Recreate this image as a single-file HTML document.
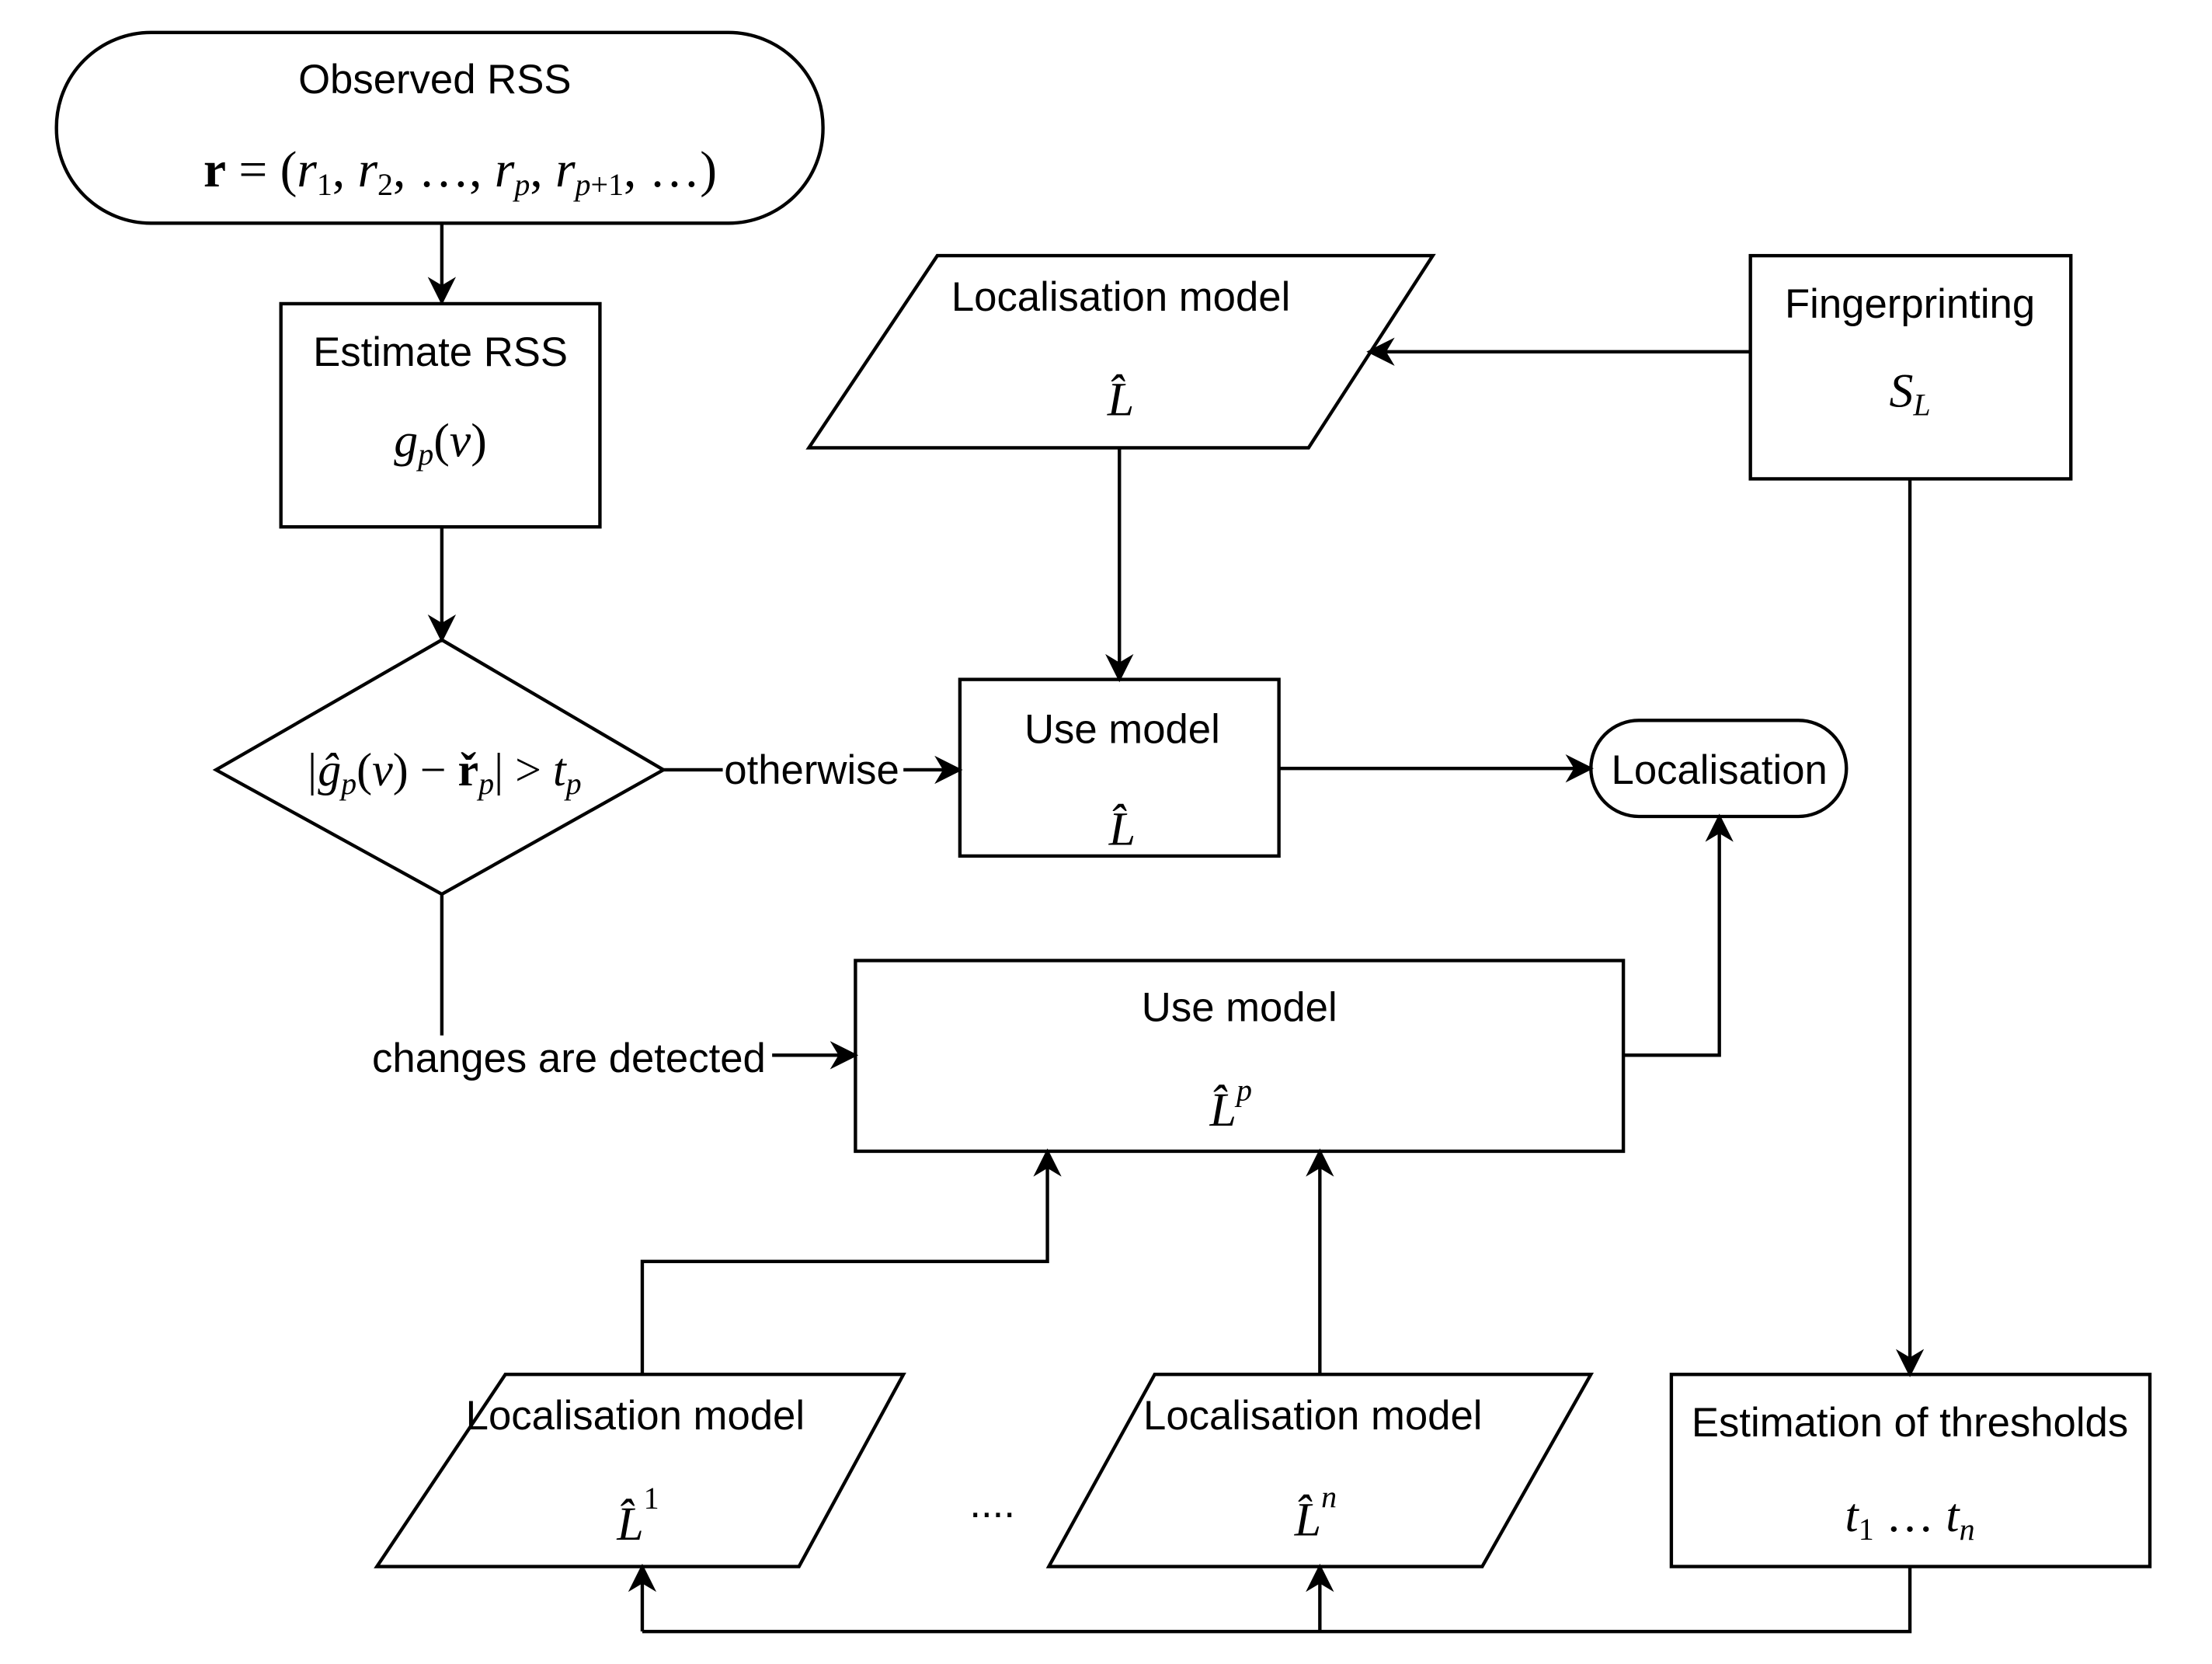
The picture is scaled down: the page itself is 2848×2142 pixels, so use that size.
<!DOCTYPE html>
<html><head><meta charset="utf-8"><style>
html,body{margin:0;padding:0;background:#fff}
svg{display:block}
.t{font-family:"Liberation Sans",sans-serif;font-size:29px;fill:#000}
.m{font-family:"Liberation Serif",serif;font-size:34px;font-style:italic;fill:#000}
.s{fill:none;stroke:#000;stroke-width:2.4}
</style></head><body>
<svg width="2848" height="2142" viewBox="0 0 1567 1178" preserveAspectRatio="none" xmlns="http://www.w3.org/2000/svg">
<defs><marker id="b" viewBox="0 0 10 10" refX="9" refY="5" markerWidth="20" markerHeight="20" orient="auto" markerUnits="userSpaceOnUse"><path d="M0,0 L10,5 L0,10 L3,5z" fill="#000"/></marker></defs>
<g class="s">
<rect x="40" y="23" width="543" height="135" rx="67"/>
<rect x="199" y="215" width="226" height="158"/>
<polygon points="153,545 313,453 470,545 313,633"/>
<rect x="680" y="481" width="226" height="125"/>
<rect x="1127" y="510" width="181" height="68" rx="34"/>
<rect x="606" y="680" width="544" height="135"/>
<polygon points="573,317 664,181 1015,181 927,317"/>
<rect x="1240" y="181" width="227" height="158"/>
<rect x="1184" y="973" width="339" height="136"/>
<polygon points="267,1109 358,973 640,973 566,1109"/>
<polygon points="743,1109 818,973 1127,973 1050,1109"/>
<line x1="313" y1="158" x2="313" y2="214" marker-end="url(#b)"/>
<line x1="313" y1="373" x2="313" y2="453" marker-end="url(#b)"/>
<line x1="470" y1="545" x2="512" y2="545"/>
<line x1="640" y1="545" x2="680" y2="545" marker-end="url(#b)"/>
<line x1="906" y1="544" x2="1127" y2="544" marker-end="url(#b)"/>
<line x1="313" y1="633" x2="313" y2="733"/>
<line x1="547" y1="747" x2="606" y2="747" marker-end="url(#b)"/>
<polyline points="1150,747 1218,747 1218,578" marker-end="url(#b)"/>
<line x1="793" y1="317" x2="793" y2="481" marker-end="url(#b)"/>
<line x1="1240" y1="249" x2="970" y2="249" marker-end="url(#b)"/>
<line x1="1353" y1="339" x2="1353" y2="973" marker-end="url(#b)"/>
<polyline points="1353,1109 1353,1155 455,1155"/>
<line x1="455" y1="1155" x2="455" y2="1109" marker-end="url(#b)"/>
<line x1="935" y1="1155" x2="935" y2="1109" marker-end="url(#b)"/>
<polyline points="455,973 455,893 742,893 742,815" marker-end="url(#b)"/>
<line x1="935" y1="973" x2="935" y2="815" marker-end="url(#b)"/>
</g>
<g text-anchor="middle">
<text class="t" x="308" y="66">Observed RSS</text>
<text class="m" x="326" y="132" style="font-style:normal;font-size:36px"><tspan font-weight="bold">r</tspan> = (<tspan font-style="italic">r</tspan><tspan font-size="22" dy="6">1</tspan><tspan dy="-6">, </tspan><tspan font-style="italic">r</tspan><tspan font-size="22" dy="6">2</tspan><tspan dy="-6">, …, </tspan><tspan font-style="italic">r</tspan><tspan font-size="22" font-style="italic" dy="6">p</tspan><tspan dy="-6">, </tspan><tspan font-style="italic">r</tspan><tspan font-size="22" font-style="italic" dy="6">p</tspan><tspan font-size="22" dy="0">+1</tspan><tspan dy="-6">, …)</tspan></text>
<text class="t" x="312" y="259">Estimate RSS</text>
<text class="m" x="312" y="323">g<tspan font-size="22" dy="6">p</tspan><tspan dy="-6" font-style="normal">(</tspan>v<tspan font-style="normal">)</tspan></text>
<text class="m" x="314" y="556" style="font-size:33px">|ĝ<tspan font-size="22" dy="6">p</tspan><tspan dy="-6" font-style="normal">(</tspan>v<tspan font-style="normal">) − </tspan><tspan font-weight="bold" font-style="normal">ř</tspan><tspan font-size="22" dy="6">p</tspan><tspan dy="-6" font-style="normal">| &gt; </tspan>t<tspan font-size="22" dy="6">p</tspan></text>
<text class="t" x="575" y="555">otherwise</text>
<text class="t" x="795" y="526">Use model</text>
<text class="m" x="795" y="598">L̂</text>
<text class="t" x="1218" y="555">Localisation</text>
<text class="t" x="403" y="759">changes are detected</text>
<text class="t" x="878" y="723">Use model</text>
<text class="m" x="872" y="797">L̂<tspan font-size="22" dy="-18">p</tspan></text>
<text class="t" x="794" y="220">Localisation model</text>
<text class="m" x="794" y="294">L̂</text>
<text class="t" x="1353" y="225">Fingerprinting</text>
<text class="m" x="1353" y="288">S<tspan font-size="22" dy="6">L</tspan></text>
<text class="t" x="1353" y="1017">Estimation of thresholds</text>
<text class="m" x="1353" y="1084">t<tspan font-size="22" font-style="normal" dy="6">1</tspan><tspan dy="-6" font-style="normal"> … </tspan>t<tspan font-size="22" dy="6">n</tspan></text>
<text class="t" x="450" y="1012">Localisation model</text>
<text class="m" x="452" y="1090">L̂<tspan font-size="22" font-style="normal" dy="-22">1</tspan></text>
<text class="t" x="930" y="1012">Localisation model</text>
<text class="m" x="932" y="1087">L̂<tspan font-size="22" dy="-20">n</tspan></text>
<text class="t" x="703" y="1074">....</text>
</g>
</svg>
</body></html>
